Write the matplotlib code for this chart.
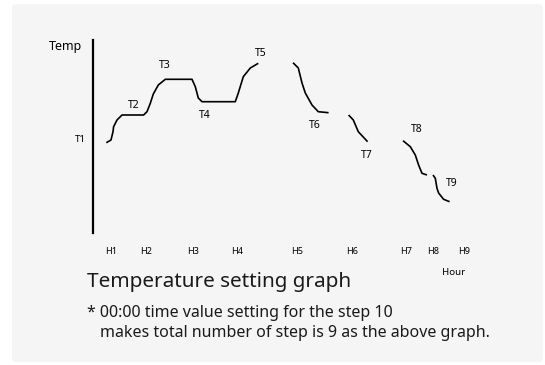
import matplotlib
matplotlib.use("Agg")
import matplotlib.pyplot as plt
from matplotlib.patches import FancyBboxPatch

plt.rcParams['font.family'] = ['Noto Sans', 'DejaVu Sans']

# --- data: time (arbitrary hour units) vs temperature (arbitrary units) ---
seg1_t = [13, 17.7, 19.7, 20.3, 23.7, 28.7, 50.3, 53.7, 57, 60, 65, 72, 98.7, 102, 105, 108.7, 142, 145, 150, 157, 165]
seg1_T = [90.3, 93, 101.3, 106.3, 113, 118, 118, 121.3, 129.7, 139, 148, 153.7, 153.7, 146.3, 135, 131.3, 131.3, 140, 156.3, 165, 169.7]
seg2_t = [199.7, 205, 208.7, 212, 218.7, 225, 235.3]
seg2_T = [170.3, 165, 150, 140, 128, 121.3, 120.3]
seg3_t = [255.3, 260, 265, 274.3]
seg3_T = [118, 113, 101.3, 91.3]
seg4_t = [309.7, 317, 322, 325.3, 328.7, 333.7]
seg4_T = [92.3, 86.3, 78, 68, 59.7, 58]
seg5_t = [339.7, 342, 343.7, 345.3, 350.3, 356.3]
seg5_T = [58, 54.7, 44.7, 40, 33.7, 31.3]
segments = [(seg1_t, seg1_T), (seg2_t, seg2_T), (seg3_t, seg3_T), (seg4_t, seg4_T), (seg5_t, seg5_T)]

step_labels = ['T2', 'T3', 'T4', 'T5', 'T6', 'T7', 'T8', 'T9']
step_label_t = [40, 72, 112, 167, 222, 273.7, 323.7, 358.7]
step_label_T = [127, 168, 118, 180, 107, 78, 103, 49]

hour_ticks = [18, 53, 100, 144, 204, 259, 313, 340, 371]
hour_labels = ['H1', 'H2', 'H3', 'H4', 'H5', 'H6', 'H7', 'H8', 'H9']

W, H = 545, 365
fig = plt.figure(figsize=(W / 100, H / 100), dpi=100, facecolor='white')

# light grey panel behind everything
panel = FancyBboxPatch((12 / W, 1 - 362 / H), (543 - 12) / W, (362 - 4) / H,
                       boxstyle="round,pad=0,rounding_size=0.01",
                       transform=fig.transFigure, facecolor='#f5f5f5',
                       edgecolor='none', zorder=-5)
fig.patches.append(panel)

# axes placed in pixel terms
left_px, right_px, top_px, bot_px = 93.3, 480, 40, 233
ax = fig.add_axes([left_px / W, 1 - bot_px / H, (right_px - left_px) / W, (bot_px - top_px) / H])
ax.set_zorder(2)
ax.set_facecolor('none')
ax.set_xlim(0, right_px - left_px)
ax.set_ylim(0, bot_px - top_px)

for t, T in segments:
    ax.plot(t, T, color='black', lw=1.2, solid_capstyle='butt')

for lab, t, T in zip(step_labels, step_label_t, step_label_T):
    ax.text(t, T, lab, fontsize=7.5, ha='center', va='center', color='black')

for s in ['top', 'right', 'bottom']:
    ax.spines[s].set_visible(False)
ax.spines['left'].set_linewidth(1.6)
ax.spines['left'].set_color('black')

ax.set_yticks([95])
ax.set_yticklabels(['T1'], fontsize=7)
ax.set_xticks(hour_ticks)
ax.set_xticklabels(hour_labels, fontsize=6.5)
ax.tick_params(axis='both', length=0)
ax.tick_params(axis='x', pad=10)
ax.tick_params(axis='y', pad=5)

ax.set_ylabel('Temp', rotation=0, fontsize=9)
ax.yaxis.set_label_coords(-0.073, 0.934)
ax.set_xlabel('Hour', fontsize=7)
ax.xaxis.set_label_coords(0.933, -0.18)

fig.text(86.7 / W, 1 - 281.7 / H, 'Temperature setting graph', fontsize=14.9,
         ha='left', va='center', color='#1a1a1a')
fig.text(86.7 / W, 1 - 313 / H, '* 00:00 time value setting for the step 10', fontsize=11.5,
         ha='left', va='center', color='#1a1a1a')
fig.text(100 / W, 1 - 333.3 / H, 'makes total number of step is 9 as the above graph.', fontsize=11.5,
         ha='left', va='center', color='#1a1a1a')

fig.savefig('out.png', dpi=100, facecolor='white')
